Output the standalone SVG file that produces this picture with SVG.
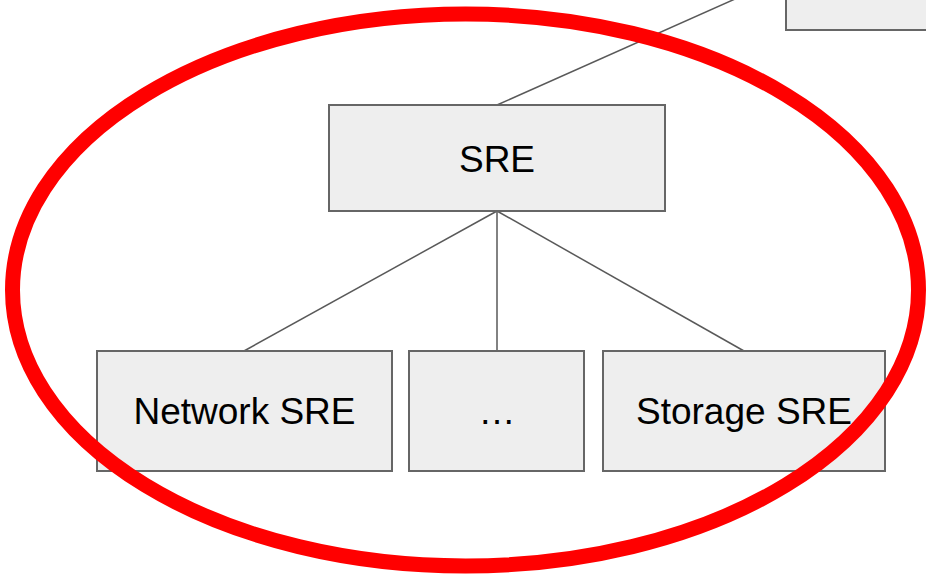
<svg xmlns="http://www.w3.org/2000/svg" width="926" height="578" viewBox="0 0 926 578">
<style>
.box{fill:#eeeeee;stroke:#666666;stroke-width:2}
.lbl{font-family:"Liberation Sans",Arial,sans-serif;font-size:37px;fill:#000;text-anchor:middle}
.conn line{stroke:#595959;stroke-width:1.5}
</style>
<rect width="926" height="578" fill="#ffffff"/>
<g id="connectors" class="conn">
<line x1="497" y1="105" x2="735" y2="-1"/>
<line x1="497" y1="211" x2="244" y2="351"/>
<line x1="497" y1="211" x2="497" y2="351"/>
<line x1="497" y1="211" x2="744" y2="351"/>
</g>
<g id="parent"><rect class="box" x="786" y="-10" width="150" height="40"/></g>
<g id="sre"><rect class="box" x="329" y="105" width="336" height="106"/><text class="lbl" x="497" y="172">SRE</text></g>
<g id="network-sre"><rect class="box" x="97" y="351" width="295" height="120"/><text class="lbl" x="244.5" y="424">Network SRE</text></g>
<g id="ellipsis"><rect class="box" x="409" y="351" width="175" height="120"/><text class="lbl" x="497" y="424">…</text></g>
<g id="storage-sre"><rect class="box" x="603" y="351" width="282" height="120"/><text class="lbl" x="744" y="424">Storage SRE</text></g>
<ellipse id="highlight" cx="465.5" cy="290" rx="453" ry="276" fill="none" stroke="#ff0000" stroke-width="15"/>
</svg>
